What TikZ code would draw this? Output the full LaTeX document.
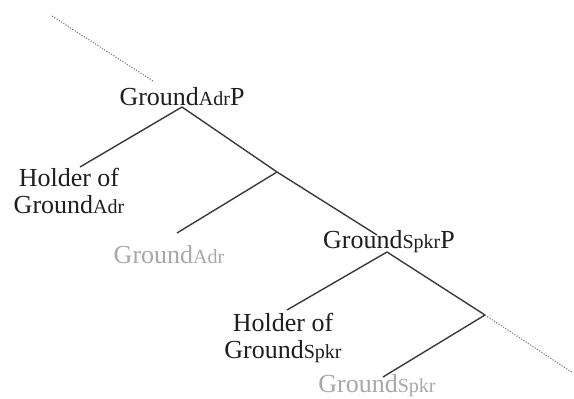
\documentclass[tikz,border=0pt]{standalone}
\usepackage{fontspec}
\setmainfont{Liberation Serif}
\newcommand\smalltag[1]{{\fontsize{20}{20}\selectfont #1}}
\definecolor{ink}{HTML}{1E1E1E}
\definecolor{branch}{HTML}{3A3A3A}
\definecolor{faded}{HTML}{A8A8A8}
\definecolor{dots}{HTML}{7A7A7A}
\begin{document}
\begin{tikzpicture}[x=1pt,y=-1pt,
  lbl/.style={inner sep=0pt, text=ink, font=\fontsize{26}{27}\selectfont},
  ghost/.style={lbl, text=faded},
  edge/.style={draw=branch, line width=1.4pt},
  trail/.style={draw=dots, line width=1pt, dash pattern=on 1.2pt off 1.5pt}]
\useasboundingbox[fill=white] (0,0) rectangle (574,399);
% labels
\node[lbl, anchor=base] (gap) at (182,105) {Ground\smalltag{Adr}P};
\node[lbl, anchor=base, align=center] (hadr) at (69,213) {Holder of\\Ground\smalltag{Adr}};
\node[ghost, anchor=base] (gadr) at (169,263) {Ground\smalltag{Adr}};
\node[lbl, anchor=base] (gsp) at (389,248) {Ground\smalltag{Spkr}P};
\node[lbl, anchor=base, align=center] (hspk) at (283,358) {Holder of\\Ground\smalltag{Spkr}};
\node[ghost, anchor=base] (gspk) at (377,392) {Ground\smalltag{Spkr}};
% branch points and free ends
\coordinate (topdot) at (52,16);
\coordinate (apexA) at (182,107);
\coordinate (midA) at (277,172);
\coordinate (apexS) at (387,252);
\coordinate (midS) at (485,315);
\coordinate (enddot) at (573,373);
\coordinate (hadrT) at (80,167);
\coordinate (gadrT) at (177,233);
\coordinate (gspT) at (377,235);
\coordinate (hspkT) at (287,310);
\coordinate (gspkT) at (383,377);
% connectors
\draw[trail] (topdot) -- (153,81);
\draw[edge] (apexA) -- (hadrT);
\draw[edge] (apexA) -- (midA);
\draw[edge] (midA) -- (gadrT);
\draw[edge] (midA) -- (gspT);
\draw[edge] (apexS) -- (hspkT);
\draw[edge] (apexS) -- (midS);
\draw[edge] (midS) -- (gspkT);
\draw[trail] (midS) -- (enddot);
\end{tikzpicture}
\end{document}
